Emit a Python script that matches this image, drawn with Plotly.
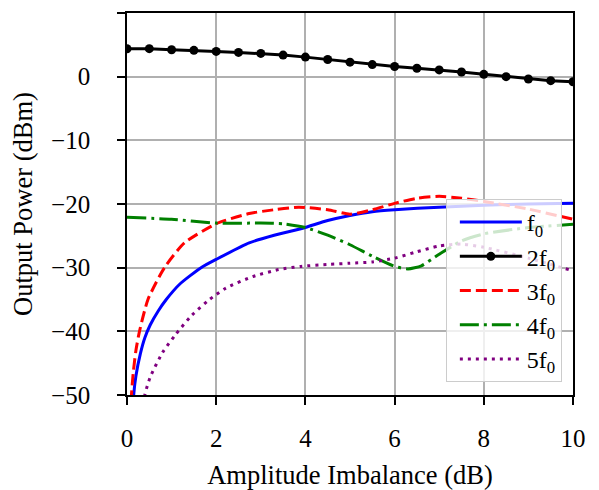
import plotly.graph_objects as go

# ---- data ----
x_2f0 = [0, 0.5, 1, 1.5, 2, 2.5, 3, 3.5, 4, 4.5, 5, 5.5, 6, 6.5, 7, 7.5, 8, 8.5, 9, 9.5, 10]
y_2f0 = [4.39, 4.4, 4.23, 4.13, 3.97, 3.81, 3.65, 3.39, 3.07, 2.70, 2.28, 1.90, 1.59, 1.32,
         1.06, 0.74, 0.37, 0.0, -0.37, -0.63, -0.79]

x_f0 = [0.11, 0.15, 0.2, 0.3, 0.4, 0.52, 0.7, 0.88, 1.18, 1.66, 2.0, 2.74, 3.3, 3.94, 4.5,
        5.0, 5.5, 6.0, 7.0, 8.0, 9.0, 10.0]
y_f0 = [-56, -50, -47, -43.5, -41, -39, -36.8, -35, -32.6, -30, -28.7, -26.1, -24.9, -23.8,
        -22.6, -21.8, -21.2, -20.9, -20.5, -20.2, -20.0, -19.9]

x_3f0 = [0.07, 0.1, 0.14, 0.2, 0.28, 0.47, 0.84, 1.29, 2.0, 2.74, 3.3, 3.85, 4.5, 5.0, 5.5,
         6.0, 6.5, 7.0, 7.5, 8.0, 9.0, 10.0]
y_3f0 = [-56, -50, -46.5, -43, -40, -35, -30, -26.1, -23.1, -21.5, -20.9, -20.5, -20.9,
         -21.6, -20.9, -19.9, -19.1, -18.8, -19.1, -19.6, -20.8, -22.4]

x_4f0 = [0, 1, 2, 3, 3.5, 4, 4.5, 5, 5.5, 6, 6.3, 6.6, 7, 7.5, 8, 9, 10]
y_4f0 = [-22.1, -22.4, -23.0, -23.0, -23.1, -23.7, -24.9, -26.4, -28.2, -29.8,
         -30.2, -29.7, -27.9, -25.8, -24.7, -23.7, -23.2]

x_5f0 = [0.33, 0.4, 0.52, 0.8, 1.09, 1.45, 1.85, 2.22, 2.82, 3.4, 3.9, 4.5, 5.0, 5.5,
         6.0, 6.5, 7.0, 7.5, 8.0, 9.0, 10.0]
y_5f0 = [-54, -50, -47.2, -43.3, -40.5, -37.5, -35, -33.2, -31.4, -30.3, -29.8, -29.5,
         -29.3, -29.1, -28.5, -27.5, -26.6, -26.3, -26.8, -28.5, -30.5]

x_ticks = [0, 2, 4, 6, 8, 10]
y_ticks = [10, 0, -10, -20, -30, -40, -50]

FONT = "Liberation Serif, DejaVu Serif, serif"
TICK_FS = 25
TITLE_FS = 26.5
LEG_FS = 24

SPL = dict(shape="spline", smoothing=0.6)

fig = go.Figure()
fig.add_trace(go.Scatter(x=x_f0, y=y_f0, mode="lines", name="f<sub>0</sub>",
                         line=dict(color="#0000ff", width=3, **SPL)))
fig.add_trace(go.Scatter(x=x_2f0, y=y_2f0, mode="lines+markers", name="2f<sub>0</sub>",
                         line=dict(color="black", width=3),
                         marker=dict(color="black", size=9, symbol="circle")))
fig.add_trace(go.Scatter(x=x_3f0, y=y_3f0, mode="lines", name="3f<sub>0</sub>",
                         line=dict(color="#ff0000", width=3, dash="11px,5px", **SPL)))
fig.add_trace(go.Scatter(x=x_4f0, y=y_4f0, mode="lines", name="4f<sub>0</sub>",
                         line=dict(color="#008000", width=3, dash="19px,5px,3px,5px", **SPL)))
fig.add_trace(go.Scatter(x=x_5f0, y=y_5f0, mode="lines", name="5f<sub>0</sub>",
                         line=dict(color="#800080", width=3, dash="3px,5px", **SPL)))

axis_common = dict(
    showgrid=True, gridcolor="#b0b0b0", gridwidth=1.5,
    showline=True, linecolor="black", linewidth=1.7, mirror=True,
    ticks="outside", ticklen=8, tickwidth=1.5, tickcolor="black",
    zeroline=False,
    tickfont=dict(family=FONT, size=TICK_FS, color="black"),
)

fig.update_xaxes(range=[0, 10], tickvals=x_ticks, ticklabelstandoff=12,
                 title=dict(text="Amplitude Imbalance (dB)", standoff=17,
                            font=dict(family=FONT, size=TITLE_FS, color="black")),
                 **axis_common)
fig.update_yaxes(range=[-50, 10], tickvals=y_ticks, ticklabelstandoff=22,
                 title=dict(text="Output Power (dBm)", standoff=18,
                            font=dict(family=FONT, size=TITLE_FS, color="black")),
                 **axis_common)

fig.update_layout(
    width=591, height=482,
    margin=dict(l=119, r=26, t=5, b=95, autoexpand=False),
    plot_bgcolor="white", paper_bgcolor="white",
    font=dict(family=FONT, size=TICK_FS, color="black"),
    legend=dict(x=0.975, y=0.034, xanchor="right", yanchor="bottom",
                bgcolor="rgba(255,255,255,0.8)", bordercolor="#cccccc", borderwidth=1,
                font=dict(family=FONT, size=LEG_FS, color="black"),
                itemwidth=62, indentation=8, tracegroupgap=0),
    showlegend=True,
)

fig.write_html("out.html")
